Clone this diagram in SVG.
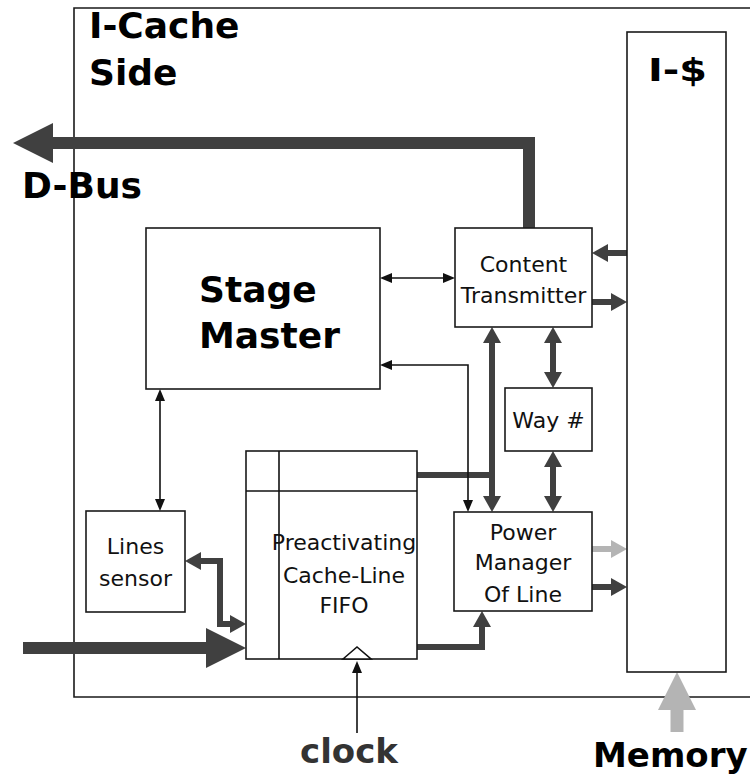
<svg xmlns="http://www.w3.org/2000/svg" width="750" height="775" viewBox="0 0 750 775">
<style>
.box{fill:#fff;stroke:#1a1a1a;stroke-width:1.6}
.frame{fill:none;stroke:#1a1a1a;stroke-width:1.6}
.t{font-family:"DejaVu Sans",Verdana,sans-serif;font-size:22px;fill:#111;text-anchor:middle}
.b{font-family:"DejaVu Sans",Verdana,sans-serif;font-weight:bold;fill:#000}
.thin{fill:none;stroke:#111;stroke-width:1.6}
.med{fill:none;stroke:#404040;stroke-width:6}
.big{fill:none;stroke:#404040;stroke-width:12}
.light{fill:none;stroke:#b4b4b4}
</style>
<defs>
<marker id="ah-thin" markerUnits="userSpaceOnUse" markerWidth="12" markerHeight="10" refX="2" refY="5" orient="auto-start-reverse"><path d="M0,0 L12,5 L0,10 z" fill="#111"/></marker>
<marker id="ah-med" markerUnits="userSpaceOnUse" markerWidth="16" markerHeight="18" refX="2" refY="9" orient="auto-start-reverse"><path d="M0,0 L16,9 L0,18 z" fill="#404040"/></marker>
<marker id="ah-med-light" markerUnits="userSpaceOnUse" markerWidth="16" markerHeight="18" refX="2" refY="9" orient="auto-start-reverse"><path d="M0,0 L16,9 L0,18 z" fill="#b4b4b4"/></marker>
<marker id="ah-big" markerUnits="userSpaceOnUse" markerWidth="40" markerHeight="40" refX="2" refY="20" orient="auto-start-reverse"><path d="M0,0 L40,20 L0,40 z" fill="#404040"/></marker>
<marker id="ah-big-light" markerUnits="userSpaceOnUse" markerWidth="38" markerHeight="38" refX="2" refY="19" orient="auto-start-reverse"><path d="M0,0 L38,19 L0,38 z" fill="#b4b4b4"/></marker>
</defs>
<rect width="750" height="775" fill="#fff"/>

<g id="icache-side">
<path class="frame" d="M760,8 L74,8 L74,697 L760,697"/>
<text class="b" x="89" y="38" font-size="36">I-Cache</text>
<text class="b" x="89" y="85" font-size="36">Side</text>
</g>

<g id="connectors">
<path class="big" d="M529,228 L529,143 L51,143" marker-end="url(#ah-big)"/>
<path class="thin" d="M390,278 L445,278" marker-start="url(#ah-thin)" marker-end="url(#ah-thin)"/>
<path class="med" d="M627,253 L606,253" marker-end="url(#ah-med)"/>
<path class="med" d="M592,302 L613,302" marker-end="url(#ah-med)"/>
<path class="med" d="M553,341 L553,374" marker-start="url(#ah-med)" marker-end="url(#ah-med)"/>
<path class="med" d="M553,465 L553,498" marker-start="url(#ah-med)" marker-end="url(#ah-med)"/>
<path class="med" d="M492,341 L492,498" marker-start="url(#ah-med)" marker-end="url(#ah-med)"/>
<path class="med" d="M417,475 L492,475"/>
<path class="thin" d="M390,365 L468,365 L468,502" marker-start="url(#ah-thin)" marker-end="url(#ah-thin)"/>
<path class="thin" d="M160,399 L160,501" marker-start="url(#ah-thin)" marker-end="url(#ah-thin)"/>
<path class="med" d="M199,561 L220,561 L220,624 L232,624" marker-start="url(#ah-med)" marker-end="url(#ah-med)"/>
<path class="big" d="M23,648 L208,648" marker-end="url(#ah-big)"/>
<path class="med" d="M417,647 L482,647 L482,625" marker-end="url(#ah-med)"/>
<path class="med light" d="M592,549 L613,549" marker-end="url(#ah-med-light)"/>
<path class="med" d="M592,587 L613,587" marker-end="url(#ah-med)"/>
<path class="thin" d="M357,733 L357,671" marker-end="url(#ah-thin)"/>
<path class="light" stroke-width="13" d="M677,732 L677,708" marker-end="url(#ah-big-light)"/>
</g>

<g id="icache">
<rect class="box" x="627" y="32" width="99" height="640"/>
<text class="b" x="648" y="81" font-size="32" textLength="59" lengthAdjust="spacingAndGlyphs">I-$</text>
</g>

<g id="stage-master">
<rect class="box" x="146" y="228" width="234" height="161"/>
<text class="b" x="199" y="302" font-size="36">Stage</text>
<text class="b" x="199" y="348" font-size="36">Master</text>
</g>

<g id="content-transmitter">
<rect class="box" x="455" y="228" width="137" height="99"/>
<text class="t" x="523.5" y="272">Content</text>
<text class="t" x="523.5" y="303">Transmitter</text>
</g>

<g id="way">
<rect class="box" x="505" y="388" width="87" height="63"/>
<text class="t" x="548.5" y="428">Way #</text>
</g>

<g id="power-manager">
<rect class="box" x="454" y="512" width="138" height="99"/>
<text class="t" x="523" y="540">Power</text>
<text class="t" x="523" y="570">Manager</text>
<text class="t" x="523" y="602">Of Line</text>
</g>

<g id="lines-sensor">
<rect class="box" x="86" y="511" width="99" height="101"/>
<text class="t" x="135.5" y="554">Lines</text>
<text class="t" x="135.5" y="586">sensor</text>
</g>

<g id="fifo">
<rect class="box" x="246" y="451" width="171" height="208"/>
<line class="thin" x1="279" y1="451" x2="279" y2="659"/>
<line class="thin" x1="246" y1="491" x2="417" y2="491"/>
<text class="t" x="344" y="550">Preactivating</text>
<text class="t" x="344" y="583">Cache-Line</text>
<text class="t" x="344" y="613">FIFO</text>
<polygon points="343,659 357,647 371,659" fill="#fff" stroke="#111" stroke-width="1.6"/>
</g>

<g id="dbus-label"><text class="b" x="22" y="198" font-size="36">D-Bus</text></g>
<g id="clock-label"><text class="b" x="300" y="763" font-size="34" fill="#333" style="fill:#333">clock</text></g>
<g id="memory-label"><text class="b" x="593" y="767" font-size="34">Memory</text></g>
</svg>
